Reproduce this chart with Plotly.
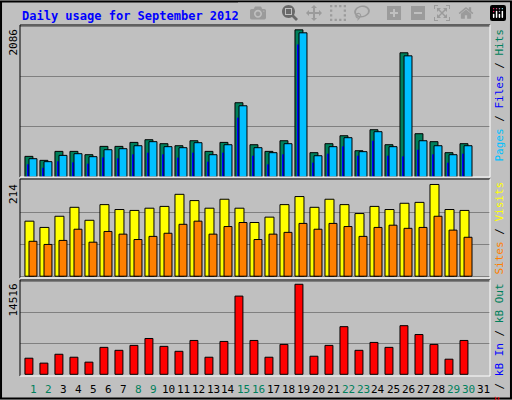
import plotly.graph_objects as go

days = list(range(1, 32))
hits = [285, 230, 354, 354, 308, 423, 423, 478, 515, 460, 432, 501, 354, 478, 1026,
        446, 354, 501, 2033, 336, 460, 570, 363, 653, 446, 1716, 598, 488, 336, 460, None]
files = [253, 212, 299, 322, 281, 377, 391, 432, 488, 419, 405, 474, 308, 446, 984,
         405, 336, 460, 1992, 294, 419, 543, 350, 626, 419, 1674, 501, 432, 308, 432, None]
pages = [175, 129, 216, 202, 184, 271, 258, 313, 336, 313, 267, 336, 212, 336, 819,
         294, 175, 313, 1831, 198, 322, 423, 294, 501, 294, 285, 377, 313, 198, 322, None]
visits = [123, 109, 134, 154, 125, 160, 149, 147, 152, 156, 183, 169, 152, 172, 152,
          120, 132, 160, 178, 154, 172, 160, 140, 156, 149, 163, 165, 205, 149, 147, None]
sites = [78, 71, 80, 105, 76, 100, 94, 82, 89, 96, 116, 123, 94, 111, 120,
         82, 94, 98, 118, 105, 118, 111, 89, 109, 114, 107, 109, 134, 103, 87, None]
kbytes = [2524, 1751, 3142, 2678, 1906, 4223, 3760, 4532, 5614, 4378, 3605, 5305, 2678, 5150, 12257,
          5305, 2678, 4687, 14111, 2833, 4532, 7468, 3760, 4996, 4223, 7622, 6232, 4687, 2369, 5305, None]
weekend = [1, 2, 8, 9, 15, 16, 22, 23, 29, 30]
max_hits, max_visits, max_kb = 2086, 214, 14516

fig = go.Figure()
line = dict(color="black", width=1)

def bars(y, color, offset, width, yaxis, outline=True):
    fig.add_trace(go.Bar(x=days, y=y, offset=offset, width=width, yaxis=yaxis,
                         marker=dict(color=color, line=line if outline else dict(width=0))))

bars(hits, "#00805C", -0.12, 0.53, "y")
bars(pages, "#0000FF", 0.02, 0.13, "y", outline=False)
bars(files, "#00C0FF", 0.15, 0.53, "y")
bars(visits, "#FFFF00", -0.12, 0.6, "y2")
bars(sites, "#FF8000", 0.15, 0.53, "y2")
bars(kbytes, "#FF0000", -0.12, 0.53, "y3")

ygrid = dict(showgrid=True, gridcolor="#808080", gridwidth=1, showticklabels=False,
             zeroline=False, ticks="")
fig.update_layout(
    width=512, height=400, margin=dict(l=0, r=0, t=0, b=0),
    paper_bgcolor="#C0C0C0", plot_bgcolor="#C0C0C0",
    showlegend=False, barmode="overlay",
    font=dict(family="DejaVu Sans Mono", size=11, color="black"),
    xaxis=dict(domain=[20 / 512, 490 / 512], range=[0.55, 31.88], showgrid=False,
               showticklabels=False, zeroline=False, anchor="y3"),
    yaxis=dict(domain=[1 - 177 / 400, 1 - 25 / 400], range=[0, 2100],
               tick0=0, dtick=max_hits / 3, **ygrid),
    yaxis2=dict(domain=[1 - 278 / 400, 1 - 180 / 400], range=[-4, 215],
                tick0=0, dtick=max_visits / 3, **ygrid),
    yaxis3=dict(domain=[1 - 375 / 400, 1 - 280 / 400], range=[-108, 14780],
                tick0=0, dtick=max_kb / 3, **ygrid),
)

shapes = [dict(type="rect", xref="paper", yref="paper", x0=0.002, x1=0.998, y0=0.004, y1=0.996,
               line=dict(color="black", width=2))]
for top, bot in [(25, 177), (179, 278), (280, 376)]:
    y0, y1 = 1 - bot / 400, 1 - top / 400
    x0, x1 = 20 / 512, 490 / 512
    shapes.append(dict(type="line", xref="paper", yref="paper", x0=x0, x1=x1, y0=y1, y1=y1, line=line))
    shapes.append(dict(type="line", xref="paper", yref="paper", x0=x0, x1=x0, y0=y0, y1=y1, line=line))
    wl = dict(color="white", width=1)
    shapes.append(dict(type="line", xref="paper", yref="paper", x0=x0, x1=x1, y0=y0, y1=y0, line=wl))
    shapes.append(dict(type="line", xref="paper", yref="paper", x0=x1, x1=x1, y0=y0, y1=y1, line=wl))
fig.update_layout(shapes=shapes)

ann = [dict(text="<b>Daily usage for September 2012</b>", x=20 / 512, y=1 - 16 / 400,
            xref="paper", yref="paper", xanchor="left", yanchor="middle", showarrow=False,
            font=dict(color="#0000FF", size=12))]
for label, top in [(str(max_hits), 27), (str(max_visits), 182), (str(max_kb), 282)]:
    ann.append(dict(text=label, textangle=-90, x=13 / 512, y=1 - top / 400, xref="paper",
                    yref="paper", xanchor="center", yanchor="top", showarrow=False))
legends = [
    ('<span style="color:#00C0FF">Pages</span> / <span style="color:#0000FF">Files</span>'
     ' / <span style="color:#00805C">Hits</span>', 27),
    ('<span style="color:#FF8000">Sites</span> / <span style="color:#FFFF00">Visits</span>', 180),
    ('<span style="color:#FF0000">kB F</span> / <span style="color:#0000FF">kB In</span>'
     ' / <span style="color:#00805C">kB Out</span>', 282),
]
for text, top in legends:
    ann.append(dict(text=text, textangle=-90, x=499 / 512, y=1 - top / 400, xref="paper",
                    yref="paper", xanchor="center", yanchor="top", showarrow=False))
for d in days:
    ann.append(dict(text=str(d), x=d + 0.42, y=1 - 389 / 400, xref="x", yref="paper",
                    xanchor="center", yanchor="middle", showarrow=False,
                    font=dict(color="#00805C" if d in weekend else "black")))
fig.update_layout(annotations=ann)

fig.write_html("out.html", post_script="document.body.style.margin='0';")
